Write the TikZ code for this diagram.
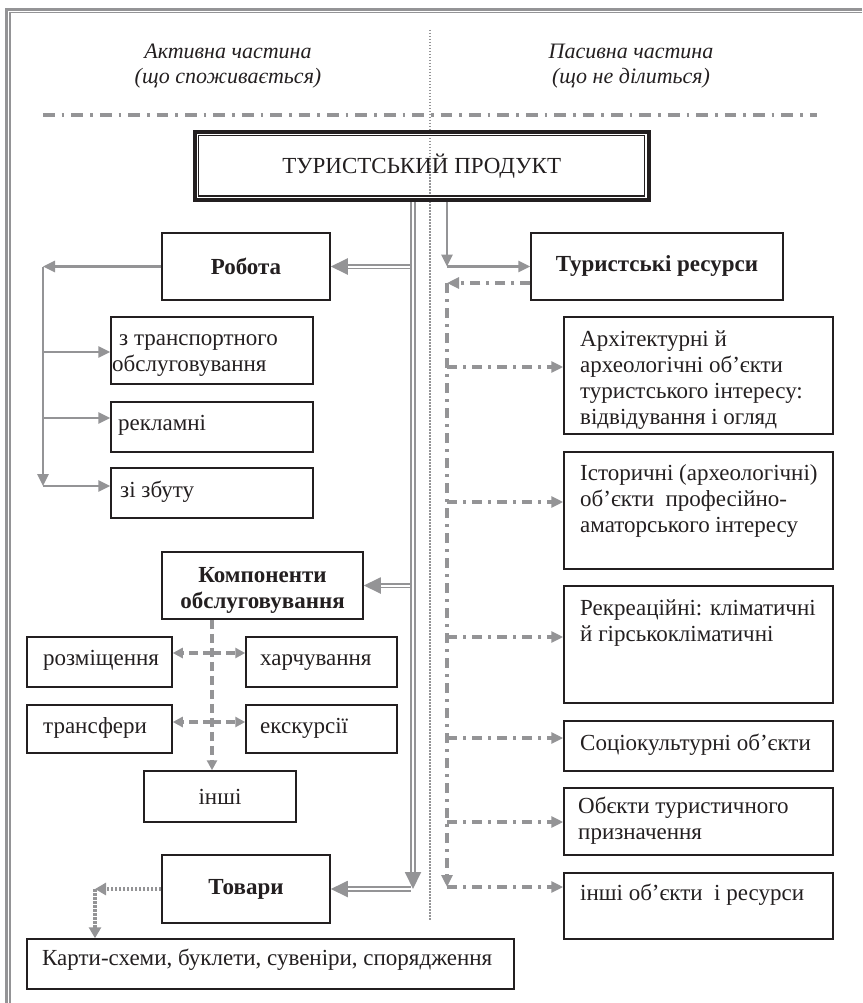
\documentclass[tikz,border=0pt]{standalone}
\usepackage{fontspec}
\setmainfont{Liberation Serif}
\usetikzlibrary{arrows.meta}
\definecolor{arrgray}{RGB}{148,148,150}
\definecolor{ink}{RGB}{35,31,32}
\begin{document}
\begin{tikzpicture}[x=1pt,y=-1pt,
  every node/.style={font=\fontsize{23}{26}\selectfont, text=ink},
  box/.style={draw=ink, line width=1.5pt, inner sep=0pt, rectangle, align=center},
  btxt/.style={inner sep=0pt, align=left},
  ctxt/.style={inner sep=0pt, align=center},
  hdr/.style={inner sep=0pt, align=center, font=\fontsize{22}{25}\selectfont\itshape},
  dbl/.style={draw=arrgray, double=white, double distance=2pt, line width=1.9pt, -{Triangle[length=17pt,width=16pt]}},
  sarr/.style={draw=arrgray, line width=2.6pt, -{Triangle[length=12pt,width=11pt]}},
  ddarr/.style={draw=arrgray, line width=3.4pt, dash pattern=on 10pt off 6pt on 3pt off 6pt, -{Triangle[length=12pt,width=11pt]}},
  dasharr/.style={draw=arrgray, line width=3.4pt, dash pattern=on 9pt off 5pt, -{Triangle[length=10pt,width=10pt]}},
  dotarr/.style={draw=arrgray, line width=3.4pt, dash pattern=on 2.5pt off 1.5pt, -{Triangle[length=11pt,width=12pt]}}
]
\useasboundingbox (0,0) rectangle (862,1003);

% outer frame
\draw[arrgray, line width=3pt] (862,9.5) -- (6.5,9.5) -- (6.5,1003);
\draw[arrgray, line width=1.4pt] (862,12.7) -- (10,12.7) -- (10,1003);

% headers
\node[hdr, anchor=north] (hL) at (228,40.5) {\strut Активна частина\\(що споживається)};
\node[hdr, anchor=north] (hR) at (631,40.5) {\strut Пасивна частина\\(що не ділиться)};

% separators
\draw[arrgray, line width=4.2pt, dash pattern=on 11.7pt off 7pt on 2.7pt off 7pt] (43,115) -- (817,115);
\draw[arrgray, line width=1.8pt, dash pattern=on 1.5pt off 1.5pt] (430,30) -- (430,920);

% title
\node[draw=ink, line width=4pt, minimum width=454pt, minimum height=68.3pt, inner sep=0pt,
      font=\fontsize{23}{26}\selectfont] (title) at (421.7,165.9) {ТУРИСТСЬКИЙ ПРОДУКТ};
\draw[ink, line width=1.5pt] ([shift={(6pt,-6pt)}]title.north west) rectangle ([shift={(-6pt,6pt)}]title.south east);

% left column boxes
\node[box, minimum width=168pt, minimum height=67pt] (robota) at (246,266.5) {\textbf{Робота}};
\node[box, minimum width=202pt, minimum height=67pt] (transp) at (212,350.5) {};
\node[box, minimum width=202pt, minimum height=50pt] (reklam) at (212,427) {};
\node[box, minimum width=202pt, minimum height=50pt] (zbut) at (212,493) {};
\node[box, minimum width=201pt, minimum height=67pt] (komp) at (262.5,585.5) {};
\node[box, minimum width=145pt, minimum height=50pt] (rozm) at (99.5,662) {};
\node[box, minimum width=151pt, minimum height=50pt] (harch) at (321.5,662) {};
\node[box, minimum width=145pt, minimum height=48pt] (transf) at (99.5,729) {};
\node[box, minimum width=151pt, minimum height=48pt] (ekskur) at (321.5,729) {};
\node[box, minimum width=152pt, minimum height=51pt] (inshi) at (220,796.5) {інші};
\node[box, minimum width=168pt, minimum height=68pt] (tovary) at (246,889) {\textbf{Товари}};
\node[box, minimum width=487pt, minimum height=50pt] (karty) at (270.5,964) {};

% right column boxes
\node[box, minimum width=252pt, minimum height=67pt] (tres) at (657,266.5) {\textbf{Туристські ресурси}};
\node[box, minimum width=269pt, minimum height=117pt] (arch) at (698.5,375.5) {};
\node[box, minimum width=269pt, minimum height=117pt] (ist) at (698.5,510.5) {};
\node[box, minimum width=269pt, minimum height=117pt] (rekr) at (698.5,644.5) {};
\node[box, minimum width=269pt, minimum height=50pt] (soc) at (698.5,746) {};
\node[box, minimum width=269pt, minimum height=67pt] (obj) at (698.5,821.5) {};
\node[box, minimum width=269pt, minimum height=66pt] (inshiob) at (698.5,906) {};

% texts of left boxes
\node[btxt, anchor=north west] (transpT) at (112,326.8) {\strut\hspace*{7pt}з транспортного\\обслуговування};
\node[btxt, anchor=base west] (reklamT) at (118,430) {рекламні};
\node[btxt, anchor=base west] (zbutT) at (120,497) {зі збуту};
\node[ctxt, anchor=north] (kompT) at (262.5,563.8) {\strut\textbf{Компоненти}\\\textbf{обслуговування}};
\node[btxt, anchor=base west] (rozmT) at (43,665) {розміщення};
\node[btxt, anchor=base west] (harchT) at (260,665) {харчування};
\node[btxt, anchor=base west] (transfT) at (43,733) {трансфери};
\node[btxt, anchor=base west] (ekskurT) at (260,733) {екскурсії};
\node[btxt, anchor=base west] (kartyT) at (42,965) {Карти-схеми, буклети, сувеніри, спорядження};

% texts of right boxes
\node[btxt, anchor=north west] (archT) at (580,327.8) {\strut Архітектурні й\\археологічні об’єкти\\туристського інтересу:\\відвідування і огляд};
\node[btxt, anchor=north west] (istT) at (580,461.8) {\strut Історичні (археологічні)\\об’єкти\ \ професійно-\\аматорського інтересу};
\node[btxt, anchor=north west] (rekrT) at (580,596.8) {\strut Рекреаційні: кліматичні\\й гірськокліматичні};
\node[btxt, anchor=base west] (socT) at (580,750) {Соціокультурні об’єкти};
\node[btxt, anchor=north west] (objT) at (578,794.8) {\strut Обєкти туристичного\\призначення};
\node[btxt, anchor=base west] (inshiobT) at (580,900) {інші об’єкти\ \ і ресурси};

% junction coordinates
\coordinate (mx) at (413,0);
\coordinate (mxl) at (410.5,0);
\coordinate (rx) at (447,0);
\coordinate (lx) at (43,0);
\coordinate (kx) at (212,0);
\coordinate (tx) at (95,0);
\coordinate (l1) at (43,352);
\coordinate (l2) at (43,418);
\coordinate (l3) at (43,486);
\coordinate (d1) at (212,653);
\coordinate (d2) at (212,722);
\coordinate (rtop) at (447,283);
\coordinate (r1) at (447,367);
\coordinate (r2) at (447,502);
\coordinate (r3) at (447,637);
\coordinate (r4) at (447,738);
\coordinate (r5) at (447,822);
\coordinate (r6) at (447,887);

% main double connectors
\draw[dbl] (robota.east -| mxl) -- (robota.east);
\draw[dbl] (komp.east -| mxl) -- (komp.east);
\draw[dbl] (tovary.east -| mxl) -- (tovary.east);
\draw[dbl] (title.south -| mx) -- (tovary.east -| mx);

% Robota branches
\draw[sarr] (robota.west) -- (robota.west -| lx);
\draw[sarr] (robota.west -| lx) -- (l3);
\draw[sarr] (l1) -- (l1 -| transp.west);
\draw[sarr] (l2) -- (l2 -| reklam.west);
\draw[sarr] (l3) -- (l3 -| zbut.west);

% Komponenty branches
\draw[dasharr] (komp.south -| kx) -- (inshi.north -| kx);
\draw[dasharr] (d1) -- (d1 -| rozm.east);
\draw[dasharr] (d1) -- (d1 -| harch.west);
\draw[dasharr] (d2) -- (d2 -| transf.east);
\draw[dasharr] (d2) -- (d2 -| ekskur.west);

% Tovary branch
\draw[dotarr] (tovary.west) -- (tovary.west -| tx);
\draw[dotarr] (tovary.west -| tx) -- (karty.north -| tx);

% right side
\draw[sarr] (title.south -| rx) -- (tres.west -| rx);
\draw[sarr] (tres.west -| rx) -- (tres.west);
\draw[ddarr] (tres.west |- rtop) -- (rtop);
\draw[ddarr] (rtop) -- (r6);
\draw[ddarr] (r1) -- (r1 -| arch.west);
\draw[ddarr] (r2) -- (r2 -| ist.west);
\draw[ddarr] (r3) -- (r3 -| rekr.west);
\draw[ddarr] (r4) -- (r4 -| soc.west);
\draw[ddarr] (r5) -- (r5 -| obj.west);
\draw[ddarr] (r6) -- (r6 -| inshiob.west);
\end{tikzpicture}
\end{document}
